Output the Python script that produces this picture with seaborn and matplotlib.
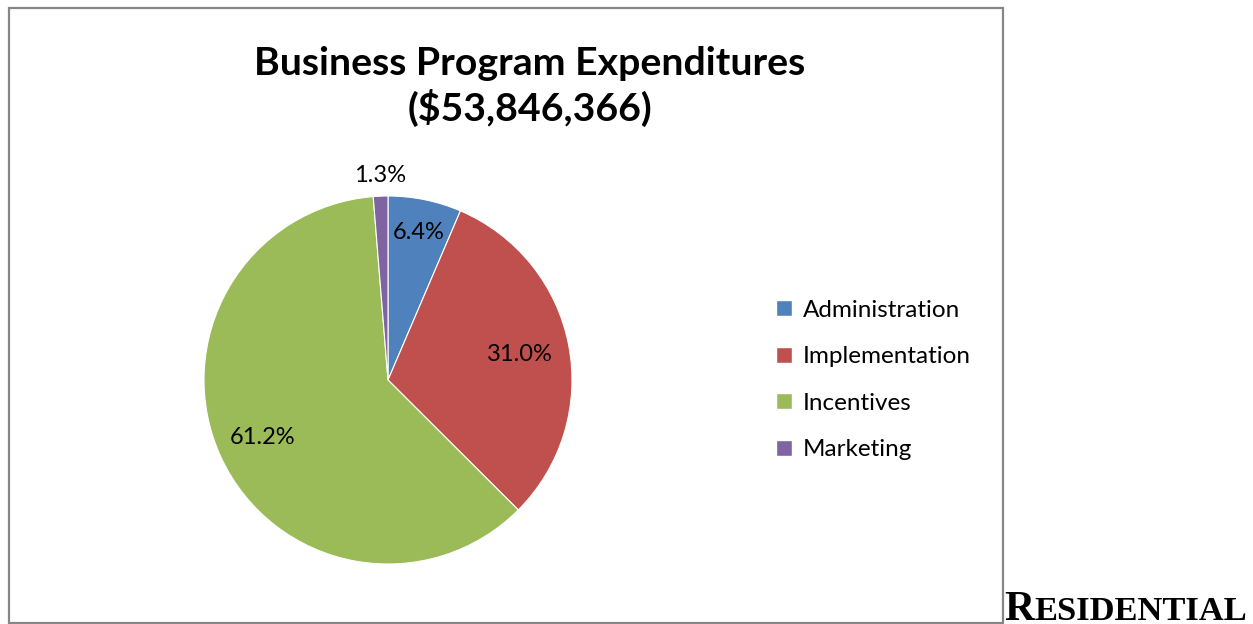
import matplotlib
matplotlib.use("Agg")
import matplotlib.pyplot as plt
import seaborn as sns
import numpy as np

# Data
categories = ["Administration", "Implementation", "Incentives", "Marketing"]
shares = [6.44, 31.04, 61.24, 1.28]
colors = ["#4F81BD", "#C0504D", "#9BBB59", "#8064A2"]
label_dist = [0.82, 0.73, 0.75, 1.11]
title_lines = ["Business Program Expenditures", "($53,846,366)"]

sns.set_theme(style="white")
plt.rcParams["font.family"] = ["Lato", "DejaVu Sans"]
plt.rcParams["text.color"] = "black"

W, H = 1253, 624
fig = plt.figure(figsize=(W / 100, H / 100), dpi=100)

# frame around chart area
frame = plt.Rectangle((9 / W, 1 - 623 / H), (1003 - 9) / W, (623 - 8) / H,
                      transform=fig.transFigure, fill=False,
                      edgecolor="#868686", linewidth=1.6)
fig.add_artist(frame)

cx, cy, r = 388, 380, 184
ax = fig.add_axes([(cx - r) / W, (H - cy - r) / H, 2 * r / W, 2 * r / H])
wedges, texts, autotexts = ax.pie(shares, colors=colors, startangle=90,
                                  counterclock=False, autopct="%.1f%%",
                                  wedgeprops=dict(edgecolor="white", linewidth=0.8),
                                  textprops=dict(fontsize=17, color="black"))
for w, t, d in zip(wedges, autotexts, label_dist):
    ang = np.deg2rad((w.theta1 + w.theta2) / 2)
    t.set_position((d * np.cos(ang), d * np.sin(ang)))
ax.set_xlim(-1, 1)
ax.set_ylim(-1, 1)
ax.set_aspect("equal")
ax.axis("off")

# title
fig.text(530 / W, 1 - 75 / H, title_lines[0], ha="center", va="baseline",
         fontsize=28.3, fontweight="bold", color="black")
fig.text(530 / W, 1 - 121 / H, title_lines[1], ha="center", va="baseline",
         fontsize=28.3, fontweight="bold", color="black")

# legend
handles = [plt.Rectangle((0, 0), 1, 1, facecolor=c) for c in colors]
fig.legend(handles, categories, loc="center left",
           bbox_to_anchor=(754 / W, 1 - 380 / H), frameon=False,
           fontsize=17.5, handlelength=0.65, handleheight=0.65,
           handletextpad=0.45, labelspacing=1.05)

# stray heading at the bottom right
t1 = fig.text(1004 / W, 1 - 620 / H, "R", ha="left", va="baseline",
              fontsize=30, fontweight="bold", family="Liberation Serif")
fig.canvas.draw()
bb = t1.get_window_extent()
fig.text(bb.x1 / W, 1 - 620 / H, "ESIDENTIAL", ha="left", va="baseline",
         fontsize=24.8, fontweight="bold", family="Liberation Serif")

fig.savefig("out.png", dpi=100)
